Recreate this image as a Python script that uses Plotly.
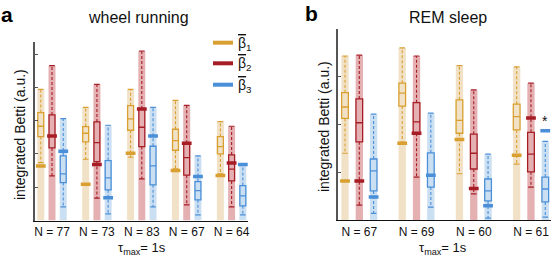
import plotly.graph_objects as go

# ---------------- data (a.u.) ----------------
# Panel a: wheel running
a_labels = ["N = 77", "N = 73", "N = 83", "N = 67", "N = 64"]
a_b1_top = [3.94, 3.40, 3.94, 3.61, 2.97]
a_b1_q3 = [3.24, 2.82, 3.45, 2.74, 2.52]
a_b1_med = [2.83, 2.62, 3.05, 2.40, 2.22]
a_b1_q1 = [2.52, 2.36, 2.71, 2.11, 2.00]
a_b1_low = [1.74, 1.84, 1.90, 1.55, 1.40]
a_b1_val = [1.64, 1.09, 2.02, 1.50, 1.35]

a_b2_top = [4.65, 4.09, 5.09, 3.46, 2.83]
a_b2_q3 = [3.17, 2.96, 3.35, 2.32, 1.97]
a_b2_med = [2.54, 2.34, 2.80, 1.89, 1.54]
a_b2_q1 = [2.18, 1.77, 2.22, 1.36, 1.19]
a_b2_low = [1.34, 0.67, 1.25, 0.47, 0.41]
a_b2_val = [2.54, 1.68, 3.35, 2.32, 1.73]

a_b3_top = [3.06, 2.86, 3.40, 1.94, 1.70]
a_b3_q3 = [1.94, 1.80, 2.23, 1.17, 1.05]
a_b3_med = [1.40, 1.28, 1.64, 0.90, 0.74]
a_b3_q1 = [1.14, 0.92, 1.07, 0.62, 0.44]
a_b3_low = [0.41, 0.20, 0.41, 0.17, 0.17]
a_b3_val = [2.08, 0.68, 2.54, 1.32, 1.68]

# Panel b: REM sleep
b_labels = ["N = 67", "N = 69", "N = 60", "N = 61"]
b_b1_top = [3.44, 3.61, 3.24, 3.21]
b_b1_q3 = [2.67, 2.87, 2.52, 2.43]
b_b1_med = [2.37, 2.66, 2.09, 2.17]
b_b1_q1 = [2.13, 2.39, 1.82, 1.89]
b_b1_low = [1.40, 1.63, 0.97, 1.17]
b_b1_val = [0.82, 1.61, 1.69, 1.36]

b_b2_top = [3.46, 3.44, 2.73, 2.87]
b_b2_q3 = [2.54, 2.46, 1.80, 1.84]
b_b2_med = [2.04, 2.06, 1.40, 1.38]
b_b2_q1 = [1.64, 1.82, 1.07, 1.01]
b_b2_low = [0.31, 0.90, 0.55, 0.69]
b_b2_val = [0.82, 1.82, 0.66, 2.14]

b_b3_top = [2.22, 2.24, 1.38, 1.65]
b_b3_q3 = [1.28, 1.41, 0.86, 0.90]
b_b3_med = [1.03, 0.94, 0.61, 0.65]
b_b3_q1 = [0.61, 0.69, 0.40, 0.38]
b_b3_low = [0.14, 0.27, 0.04, 0.06]
b_b3_val = [0.48, 0.94, 0.30, 1.87]
b_star_group = 3  # asterisk above beta3 of last group

series_names = [
    "<span style='text-decoration:overline'>β</span><sub>1</sub>",
    "<span style='text-decoration:overline'>β</span><sub>2</sub>",
    "<span style='text-decoration:overline'>β</span><sub>3</sub>",
]
dark = ["#D9A031", "#A61D26", "#4A8FD7"]
light = ["#F1E2C7", "#E4B0B2", "#CBDFF3"]

FONT = "Arial, Liberation Sans, sans-serif"
W, H = 554, 264

fig = go.Figure()


def add_panel(xa, ya, data, bar_w, box_w):
    for k, (top, q3, med, q1, low, val) in enumerate(data):
        n = len(top)
        pos = [4 * g + k + 1 for g in range(n)]
        fig.add_trace(go.Bar(x=pos, y=top, base=0, width=bar_w, marker=dict(color=light[k], line=dict(width=0)),
                             xaxis=xa, yaxis=ya, showlegend=False, hoverinfo="skip"))
    for k, (top, q3, med, q1, low, val) in enumerate(data):
        n = len(top)
        pos = [4 * g + k + 1 for g in range(n)]
        fig.add_trace(go.Box(x=pos, q1=q1, median=med, q3=q3, lowerfence=q1, upperfence=q3,
                             width=box_w, whiskerwidth=0, boxpoints=False,
                             line=dict(color=dark[k], width=1.3), fillcolor="rgba(0,0,0,0)",
                             xaxis=xa, yaxis=ya, showlegend=False, hoverinfo="skip"))
        wx, wy = [], []
        for p, a, b, c, d in zip(pos, top, q3, q1, low):
            wx += [p, p, None, p, p, None]
            wy += [b, a, None, c, d, None]
        fig.add_trace(go.Scatter(x=wx, y=wy, mode="lines", line=dict(color=dark[k], width=1.1, dash="3px,2px"),
                                 xaxis=xa, yaxis=ya, showlegend=False, hoverinfo="skip"))
        fig.add_trace(go.Scatter(x=pos + pos, y=list(top) + list(low), mode="markers",
                                 marker=dict(symbol="line-ew", size=4, line=dict(color=dark[k], width=1.2)),
                                 xaxis=xa, yaxis=ya, showlegend=False, hoverinfo="skip"))
        fig.add_trace(go.Scatter(x=pos, y=val, mode="markers",
                                 marker=dict(symbol="line-ew", size=7, line=dict(color=dark[k], width=3.5)),
                                 xaxis=xa, yaxis=ya, showlegend=False, hoverinfo="skip"))


a_data = [
    (a_b1_top, a_b1_q3, a_b1_med, a_b1_q1, a_b1_low, a_b1_val),
    (a_b2_top, a_b2_q3, a_b2_med, a_b2_q1, a_b2_low, a_b2_val),
    (a_b3_top, a_b3_q3, a_b3_med, a_b3_q1, a_b3_low, a_b3_val),
]
b_data = [
    (b_b1_top, b_b1_q3, b_b1_med, b_b1_q1, b_b1_low, b_b1_val),
    (b_b2_top, b_b2_q3, b_b2_med, b_b2_q1, b_b2_low, b_b2_val),
    (b_b3_top, b_b3_q3, b_b3_med, b_b3_q1, b_b3_low, b_b3_val),
]
add_panel("x", "y", a_data, 0.62, 0.53)
add_panel("x2", "y2", b_data, 0.51, 0.47)


def px(x):
    return x / W


def py(y):
    return 1 - y / H


axis_common = dict(showgrid=False, zeroline=False, fixedrange=True, autorange=False, type="linear")
fig.update_layout(
    width=W, height=H, margin=dict(l=0, r=0, t=0, b=0, autoexpand=False),
    paper_bgcolor="white", plot_bgcolor="white",
    barmode="overlay", boxmode="overlay", showlegend=False,
    font=dict(family=FONT, color="#111", size=12),
    xaxis=dict(domain=[px(34.5), px(248)], range=[0.44, 19.46], anchor="y",
               tickmode="array", tickvals=[4 * g + 2 for g in range(len(a_labels))], ticktext=a_labels,
               ticks="", showline=True, linecolor="#111", linewidth=1.4,
               tickfont=dict(size=12, color="#111"), **axis_common),
    yaxis=dict(domain=[py(220.5), py(41.7)], range=[0, 5.37], anchor="x",
               tickmode="array", tickvals=[1, 2, 3, 4, 5], ticks="inside", ticklen=3, tickcolor="#555",
               showticklabels=False, showline=True, linecolor="#555", linewidth=1.2, **axis_common),
    xaxis2=dict(domain=[px(337.7), px(551)], range=[0.49, 15.4], anchor="y2",
                tickmode="array", tickvals=[4 * g + 2 for g in range(len(b_labels))], ticktext=b_labels,
                ticks="", showline=True, linecolor="#111", linewidth=1.4,
                tickfont=dict(size=12, color="#111"), **axis_common),
    yaxis2=dict(domain=[py(220), py(29.3)], range=[0, 4.0], anchor="x2",
                tickmode="array", tickvals=[1, 2, 3, 4], ticks="inside", ticklen=3, tickcolor="#555",
                showticklabels=False, showline=True, linecolor="#555", linewidth=1.5, **axis_common),
)

ann = []
# panel letters
ann.append(dict(text="<b>a</b>", x=px(6.5), y=py(15), xref="paper", yref="paper", showarrow=False,
                font=dict(size=21, color="#000"), xanchor="center", yanchor="middle"))
ann.append(dict(text="<b>b</b>", x=px(311), y=py(14), xref="paper", yref="paper", showarrow=False,
                font=dict(size=21, color="#000"), xanchor="center", yanchor="middle"))
# titles
ann.append(dict(text="wheel running", x=px(138), y=py(17), xref="paper", yref="paper", showarrow=False,
                font=dict(size=16, color="#111"), xanchor="center", yanchor="middle"))
ann.append(dict(text="REM sleep", x=px(448), y=py(17.5), xref="paper", yref="paper", showarrow=False,
                font=dict(size=16, color="#111"), xanchor="center", yanchor="middle"))
# y labels
ann.append(dict(text="integrated Betti (a.u.)", x=px(20), y=py(135), xref="paper", yref="paper",
                showarrow=False, textangle=-90, font=dict(size=14, color="#111"),
                xanchor="center", yanchor="middle"))
ann.append(dict(text="integrated Betti (a.u.)", x=px(324), y=py(127), xref="paper", yref="paper",
                showarrow=False, textangle=-90, font=dict(size=14, color="#111"),
                xanchor="center", yanchor="middle"))
# x titles
for cx in (142, 443):
    ann.append(dict(text="τ<sub>max</sub>= 1s", x=px(cx), y=py(248), xref="paper", yref="paper",
                    showarrow=False, font=dict(size=13, color="#111"), xanchor="center", yanchor="middle"))
# asterisk
ann.append(dict(text="*", x=4 * b_star_group + 3, y=b_b3_val[b_star_group], xref="x2", yref="y2",
                showarrow=False, yshift=10, font=dict(size=14, color="#111"), xanchor="center",
                yanchor="middle"))

# legend (manual)
shapes = []
for k, ly in enumerate([42.7, 63.3, 84.7]):
    shapes.append(dict(type="line", xref="paper", yref="paper", x0=px(213), x1=px(233),
                       y0=py(ly), y1=py(ly), line=dict(color=dark[k], width=4)))
    ann.append(dict(text=series_names[k], x=px(236), y=py(ly + 1), xref="paper", yref="paper",
                    showarrow=False, font=dict(size=14, color="#111"), xanchor="left", yanchor="middle"))

fig.update_layout(annotations=ann, shapes=shapes)
fig.write_html("out.html",
               config={"displayModeBar": False, "staticPlot": True},
               post_script="document.body.style.margin='0px';document.body.style.padding='0px';"
                           "document.body.style.overflow='hidden';")
